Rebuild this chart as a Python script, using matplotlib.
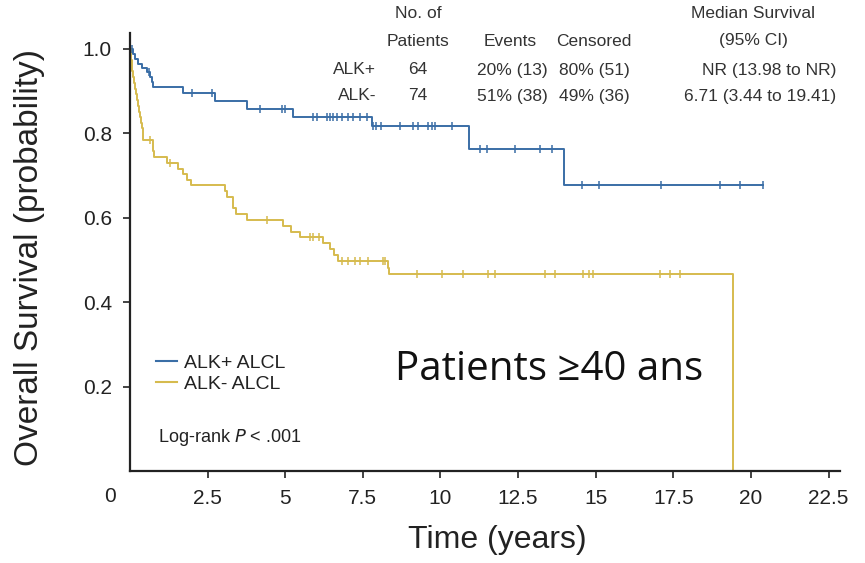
import matplotlib
matplotlib.use("Agg")
import matplotlib.pyplot as plt

# === Data ===
# ALK+ ALCL: step times (years) and survival after each step
alk_pos_time = [0, 0.11, 0.16, 0.27, 0.38, 0.54, 0.64, 0.70, 0.75, 1.72, 2.74,
                3.76, 5.26, 7.78, 10.93, 13.98, 20.4]
alk_pos_surv = [1.0, 0.987, 0.975, 0.963, 0.955, 0.944, 0.932, 0.920, 0.909, 0.894,
                0.876, 0.857, 0.839, 0.816, 0.762, 0.677, 0.677]
alk_pos_cens = [0.05, 0.62, 2.0, 2.65, 4.19, 4.89, 4.99, 5.9, 6.01, 6.33, 6.44, 6.55,
                6.66, 6.82, 7.03, 7.19, 7.41, 7.62, 7.84, 7.94, 8.1, 8.7, 9.12, 9.28,
                9.6, 9.72, 9.82, 10.36, 11.27, 11.49, 12.4, 13.2, 13.58, 14.55, 15.12,
                17.1, 19.02, 19.65, 20.38]

# ALK- ALCL
alk_neg_time = [0, 0.02, 0.04, 0.06, 0.08, 0.10, 0.12, 0.15, 0.18, 0.22, 0.26, 0.30,
                0.33, 0.36, 0.38, 0.41, 0.43, 0.75, 0.78, 1.18, 1.55, 1.70, 1.85, 1.98,
                3.05, 3.11, 3.32, 3.43, 3.76, 4.94, 5.20, 5.47, 6.23, 6.44, 6.58, 6.71,
                8.30, 8.33, 19.41]
alk_neg_surv = [1.0, 0.986, 0.973, 0.959, 0.946, 0.932, 0.919, 0.905, 0.892, 0.878,
                0.865, 0.851, 0.838, 0.824, 0.811, 0.797, 0.784, 0.757, 0.743, 0.730,
                0.716, 0.703, 0.689, 0.676, 0.662, 0.649, 0.622, 0.608, 0.595, 0.581,
                0.567, 0.553, 0.539, 0.525, 0.511, 0.497, 0.481, 0.466, 0.0]
alk_neg_cens = [0.64, 1.3, 4.4, 5.8, 5.9, 6.1, 6.82, 7.03, 7.25, 7.41, 7.68, 8.16,
                8.21, 9.23, 10.04, 10.74, 11.54, 11.76, 13.37, 13.69, 14.6, 14.8,
                14.92, 17.07, 17.39, 17.71]

x_ticks = [2.5, 5, 7.5, 10, 12.5, 15, 17.5, 20, 22.5]
x_tick_labels = ["2.5", "5", "7.5", "10", "12.5", "15", "17.5", "20", "22.5"]
y_ticks = [0.2, 0.4, 0.6, 0.8, 1.0]

table_header = [("No. of", 418, 14), ("Patients", 418, 41), ("Events", 510, 41),
                ("Censored", 594, 41), ("Median Survival", 753, 14), ("(95% CI)", 753, 41)]
table_rows = [["ALK+", "64", "20% (13)", "80% (51)", "NR (13.98 to NR)"],
              ["ALK-", "74", "51% (38)", "49% (36)", "6.71 (3.44 to 19.41)"]]

BLUE = "#3a6ea6"
GOLD = "#d6bb4e"
INK = "#222222"
FONT = "Liberation Sans"

W, H = 865, 563
fig = plt.figure(figsize=(W / 100, H / 100), dpi=100)
ax = fig.add_axes([130 / W, 1 - 471 / H, (840 - 130) / W, (471 - 33) / H])


def fig_xy(x, y):
    return x / W, 1 - y / H


# curves
ax.step(alk_pos_time, alk_pos_surv, where="post", color=BLUE, lw=1.4)
ax.step(alk_neg_time, alk_neg_surv, where="post", color=GOLD, lw=1.4)


# censor ticks on the curves
def surv_at(times, surv, t):
    s = surv[0]
    for ti, si in zip(times, surv):
        if ti <= t:
            s = si
    return s


ax.plot(alk_pos_cens, [surv_at(alk_pos_time, alk_pos_surv, t) for t in alk_pos_cens],
        ls="none", marker="|", ms=6, mew=1.1, color=BLUE)
ax.plot(alk_neg_cens, [surv_at(alk_neg_time, alk_neg_surv, t) for t in alk_neg_cens],
        ls="none", marker="|", ms=6, mew=1.1, color=GOLD)

# axes styling
ax.set_xlim(0, 22.87)
ax.set_ylim(0, 1.037)
for side in ["top", "right"]:
    ax.spines[side].set_visible(False)
for side in ["left", "bottom"]:
    ax.spines[side].set_linewidth(1.6)
    ax.spines[side].set_color(INK)
ax.set_xticks(x_ticks)
ax.set_xticklabels(x_tick_labels, fontsize=15, family=FONT, color=INK)
ax.set_yticks(y_ticks)
ax.set_yticklabels(["%.1f" % v for v in y_ticks], fontsize=15, family=FONT, color=INK)
ax.tick_params(direction="out", length=5, width=1.2, color=INK, pad=8)
fig.text(*fig_xy(110, 497), "0", ha="center", va="center", fontsize=15,
         family=FONT, color=INK)

fig.text(*fig_xy(497, 540), "Time (years)", ha="center", va="center",
         fontsize=23, family=FONT, color=INK)
fig.text(*fig_xy(30, 258), "Overall Survival (probability)", rotation=90,
         ha="center", va="center", fontsize=24, family=FONT, color=INK)

# table in the top right
for txt, x, y in table_header:
    fig.text(*fig_xy(x, y), txt, ha="center", va="center", fontsize=12.5,
             family=FONT, color="#333333")
col_x = [376, 418, 512, 594, 836]
col_ha = ["right", "center", "center", "center", "right"]
for r, row in enumerate(table_rows):
    y = 70 + 26 * r
    for c, txt in enumerate(row):
        fig.text(*fig_xy(col_x[c], y), txt, ha=col_ha[c], va="center", fontsize=12.5,
                 family=FONT, color="#333333")

# legend
ax.plot([], [], color=BLUE, lw=1.5, label="ALK+ ALCL")
ax.plot([], [], color=GOLD, lw=1.5, label="ALK- ALCL")
handles, labels = ax.get_legend_handles_labels()
leg = ax.legend(handles[-2:], labels[-2:], loc="upper left",
                bbox_to_anchor=((138 - 130) / 710, (471 - 337) / 438),
                frameon=False, handlelength=1.1, handletextpad=0.35,
                labelspacing=0.15, prop={"family": FONT, "size": 14})
for t in leg.get_texts():
    t.set_color(INK)
fig.text(*fig_xy(158, 437), r"Log-rank $\it{P}$ < .001", ha="left", va="center",
         fontsize=13, family=FONT, color=INK)

fig.text(*fig_xy(395, 370), "Patients \u226540 ans", ha="left", va="center",
         fontsize=29, family="Open Sans", color="#111111")

fig.savefig("out.png", dpi=100)
